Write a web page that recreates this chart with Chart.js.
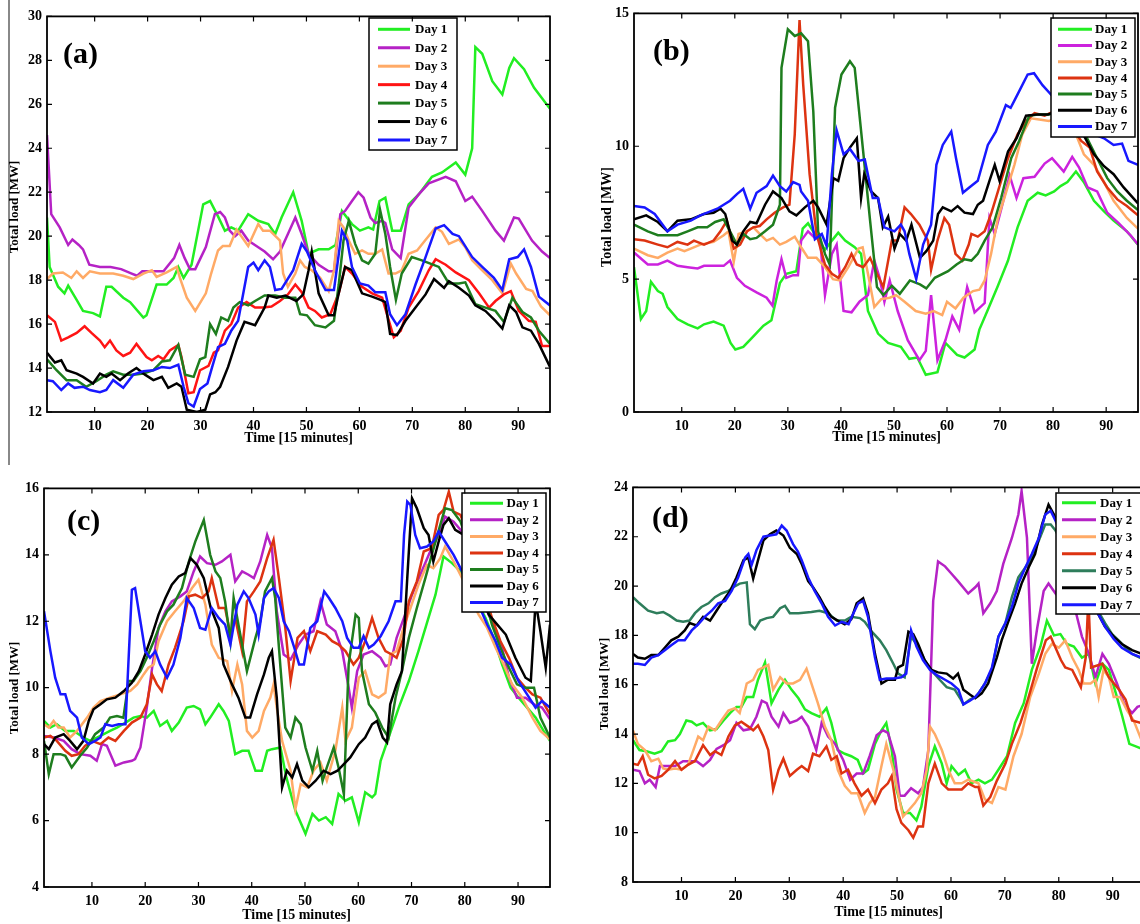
<!DOCTYPE html>
<html>
<head>
<meta charset="utf-8">
<script src="https://cdn.jsdelivr.net/npm/chart.js@4.4.0/dist/chart.umd.min.js"></script>
<style>
  html, body { margin: 0; padding: 0; background: #fff; width: 1140px; height: 924px; overflow: hidden; }
  .panel { position: absolute; }
  #rule { position: absolute; left: 8px; top: 0; width: 2px; height: 465px; background: #888; }
</style>
</head>
<body>
<div id="rule"></div>
<script>
// Legend names and axis ticks
const dayLabels = ['Day 1', 'Day 2', 'Day 3', 'Day 4', 'Day 5', 'Day 6', 'Day 7'];
const xTicks = [10, 20, 30, 40, 50, 60, 70, 80, 90];
const aTicks = [12, 14, 16, 18, 20, 22, 24, 26, 28, 30];
const bTicks = [0, 5, 10, 15];
const cTicks = [4, 6, 8, 10, 12, 14, 16];
const dTicks = [8, 10, 12, 14, 16, 18, 20, 22, 24];

// Panel (a) series: [time step, total load MW]
const a1 = [[1,20.85],[1.5,18.6],[3.1,17.7],[4.3,17.4],[5,17.75],[6.6,17.1],[7.8,16.6],[9.7,16.5],[11,16.35],[12.2,17.7],[13.2,17.7],[15.4,17.2],[16.7,17.0],[19.2,16.3],[19.8,16.4],[21.7,17.8],[23.6,17.8],[24.9,18.1],[25.8,18.6],[26.8,18.1],[28.3,18.7],[30.5,21.45],[31.8,21.6],[33.3,20.9],[34.6,20.25],[35.8,20.4],[37.1,20.25],[39,21.0],[40.9,20.7],[42.8,20.55],[44.1,20.1],[45.3,20.85],[47.5,22.0],[49.1,20.7],[50.4,19.2],[52.3,19.4],[54.2,19.4],[55.5,19.6],[56.7,21.15],[58.6,20.55],[60.1,20.25],[61.7,20.4],[62.6,20.3],[63.8,21.6],[64.9,21.75],[66.2,20.25],[67.8,20.25],[69.3,21.45],[71.2,21.9],[73.7,22.7],[75.6,22.9],[78.2,23.35],[80,22.8],[81.3,24.0],[81.9,28.6],[83.2,28.3],[85.1,27.05],[87,26.45],[88.3,27.65],[89.2,28.1],[91.1,27.6],[93,26.75],[96,25.8]];
const a2 = [[1,24.6],[1.8,21.0],[3.4,20.4],[5,19.6],[5.8,19.85],[7,19.6],[7.8,19.4],[9,18.7],[11,18.6],[13,18.6],[15,18.5],[17,18.3],[18,18.2],[19,18.4],[21,18.4],[23,18.4],[25,19.0],[26,19.6],[27,19.0],[28,18.5],[29,18.5],[31,19.5],[32.7,21.0],[33.7,21.1],[34.6,20.85],[35.5,20.25],[36.5,20.0],[37.7,20.25],[39,19.8],[40.9,19.5],[42.1,19.3],[43.7,18.95],[45,19.3],[46.5,20.1],[47.9,20.85],[49.1,20.1],[50.4,19.2],[52.3,18.7],[54.2,18.4],[55.2,18.4],[56.4,21.0],[57.3,21.15],[58.6,21.6],[59.8,22.0],[60.8,21.75],[62.1,20.85],[63,20.6],[64.3,20.7],[64.9,20.6],[66.2,19.4],[67.8,19.0],[69.3,21.3],[71.2,21.9],[73.1,22.4],[76.3,22.7],[78.2,22.5],[80,21.6],[81.3,21.8],[83.2,21.15],[85.7,20.25],[87.3,19.8],[89.2,20.85],[90.1,20.8],[92.6,19.8],[94.5,19.3],[96,19.0]];
const a3 = [[1,18.05],[2.1,18.3],[4,18.35],[5.6,18.1],[6.6,18.4],[7.8,18.1],[9.1,18.4],[11,18.3],[13.5,18.3],[15.4,18.2],[17.3,18.05],[19.2,18.3],[20.8,18.45],[21.7,18.15],[23.6,18.35],[25.5,18.6],[26.1,18.1],[27.4,17.2],[29,16.6],[31,17.4],[32,18.3],[33.3,19.35],[34.2,19.55],[35.5,19.55],[36.8,20.3],[39,19.55],[40.9,20.55],[41.8,20.25],[43.1,20.25],[45,19.8],[45.6,18.3],[46.5,17.7],[47.9,18.3],[48.8,18.9],[49.7,18.6],[51,18.45],[52.6,18.1],[54.2,17.5],[55.2,18.45],[56.1,20.7],[57,20.4],[58,19.8],[59.2,19.2],[60.5,19.35],[61.7,19.2],[63,19.2],[64.3,19.4],[65.5,18.3],[66.8,18.3],[68,18.45],[69.3,19.2],[70.9,19.35],[72.4,19.8],[74.4,20.4],[75.6,20.2],[76.9,19.65],[78.8,19.85],[80,19.5],[81.3,18.9],[83.2,18.45],[85.1,18.0],[87,17.4],[88.6,18.75],[89.6,18.3],[91.5,17.6],[92.7,17.5],[94.3,16.8],[96,16.4]];
const a4 = [[1,16.4],[2.5,16.1],[3.7,15.25],[5,15.4],[6.6,15.6],[8.1,15.9],[9.4,15.6],[11,15.25],[11.9,14.95],[12.9,15.25],[14.1,14.8],[15.4,14.55],[16.7,14.7],[17.9,15.1],[19.8,14.5],[20.8,14.35],[22,14.55],[23,14.4],[24.2,14.8],[25.8,15.05],[26.4,14.5],[27.7,12.85],[28.7,12.9],[29.9,13.9],[31.5,14.1],[32.5,14.7],[33.3,14.8],[34.6,15.7],[35.8,16.0],[37.1,16.75],[38.7,17.0],[40.3,16.75],[41.8,16.75],[43.4,16.8],[45,17.05],[46.5,17.35],[47.9,17.8],[49.1,17.45],[50.4,16.75],[51.6,16.6],[52.9,16.3],[54.5,16.45],[56.1,17.4],[57.3,18.6],[58.6,18.3],[60.5,17.7],[62.4,17.4],[64.3,17.2],[65.2,16.45],[66.5,15.4],[67.8,15.7],[69.3,16.75],[71.2,17.5],[73.1,18.45],[74.4,18.95],[76.3,18.7],[78.2,18.35],[80.7,18.0],[82.6,17.4],[84.5,16.75],[85.7,17.05],[87.3,17.35],[88.6,17.5],[90.1,16.6],[92,16.15],[93.3,16.1],[94.5,15.0],[96,15.0]];
const a5 = [[1,14.4],[2.8,13.9],[4.7,13.45],[6.6,13.45],[8.4,13.15],[10.3,13.4],[12.2,13.7],[13.5,13.85],[15.4,13.7],[17.3,13.7],[19.2,13.75],[21.1,13.9],[22.7,14.3],[24.2,14.35],[25.8,15.05],[27.1,13.7],[28.7,13.6],[29.9,14.4],[30.9,14.5],[31.8,16.0],[32.9,15.55],[33.9,16.3],[35.2,16.15],[36.2,16.75],[37.4,17.0],[39,16.85],[40.3,17.05],[42.1,17.3],[44.1,17.3],[46,17.2],[47.9,17.2],[48.8,16.45],[50.1,16.4],[51.6,15.95],[53.6,15.85],[55.2,16.15],[56.1,17.8],[57,19.8],[58,20.7],[59.2,19.65],[60.5,18.9],[61.7,18.75],[63,19.2],[63.9,21.2],[64.9,20.1],[65.8,18.6],[66.9,17.1],[68,18.3],[69.9,19.05],[71.8,18.9],[73.4,18.75],[75,18.6],[76.9,17.85],[78.8,17.85],[80,17.9],[81.9,16.9],[83.8,16.75],[85.7,16.6],[87.3,16.1],[88.9,17.2],[90.8,16.55],[92.4,16.3],[93.9,15.7],[96,15.1]];
const a6 = [[1,14.7],[2.5,14.25],[3.7,14.35],[4.7,13.9],[6.6,13.75],[7.8,13.6],[9.7,13.3],[11,13.75],[12.2,13.6],[13.2,13.75],[14.8,13.45],[16.3,13.75],[17.9,14.0],[19.5,13.7],[21.1,13.45],[22.7,13.6],[23.9,13.1],[25.5,13.3],[26.4,13.15],[27.4,12.1],[29.3,12.0],[30.9,12.1],[31.8,12.8],[32.8,12.9],[33.7,13.15],[35.2,14.05],[36.8,15.25],[38.3,16.1],[40.3,15.95],[42.1,16.75],[42.8,17.3],[44.4,17.2],[46,17.3],[48.1,17.05],[49.4,17.35],[50.4,18.45],[51,19.3],[52.3,17.4],[54.2,16.4],[55.2,16.4],[56.1,17.4],[57.3,18.6],[58.6,18.45],[60.5,17.4],[62.4,17.25],[64,17.1],[64.9,17.0],[65.8,15.55],[67.1,15.5],[68.7,16.15],[70.6,16.75],[72.5,17.35],[74.1,18.05],[76,17.65],[76.9,17.95],[78.8,17.65],[80.7,17.3],[81.9,16.85],[83.8,16.6],[85.7,16.15],[87,15.8],[88.3,16.85],[89.6,16.55],[90.8,15.85],[92.4,15.7],[93.9,15.1],[96,14.05]];
const a7 = [[1,13.45],[2.1,13.4],[3.7,13.0],[5,13.3],[6.2,13.1],[7.8,13.15],[9.1,13.0],[11,12.9],[12.2,13.0],[13.5,13.45],[15.4,13.1],[17.3,13.7],[19.2,13.85],[21.1,13.9],[22.7,14.05],[24.2,14.0],[25.8,14.15],[26.8,13.15],[27.7,12.4],[28.7,12.25],[29.9,13.05],[31.3,13.3],[32.2,14.05],[33.3,14.95],[34.6,15.1],[35.8,15.7],[37.1,16.15],[39,18.6],[40,18.8],[40.9,18.45],[42.1,18.9],[43.1,18.6],[44.1,17.55],[45.3,17.6],[47.5,18.45],[49.1,19.65],[50.1,19.3],[51.6,18.45],[53.6,17.55],[55.2,17.55],[56.7,20.25],[57.7,19.8],[58.6,18.6],[60.1,17.85],[61.7,17.75],[63,17.45],[64.9,17.45],[65.8,16.45],[67.1,15.95],[68.7,16.45],[70.6,17.8],[72.5,19.05],[74.4,20.35],[76,20.5],[77.6,20.1],[78.8,20.0],[81.3,19.05],[83.2,18.6],[85.4,18.1],[87,17.55],[88.3,18.95],[89.9,19.05],[91.1,19.4],[92.4,18.6],[93.9,17.25],[96,16.85]];

// Panel (b)
const b1 = [[1,5.45],[2.3,3.5],[3.3,3.8],[4.2,4.9],[5.5,4.55],[6.4,4.45],[7.3,3.95],[9.2,3.5],[11.1,3.3],[13,3.15],[14.2,3.3],[16,3.4],[17.9,3.25],[19.2,2.6],[20.1,2.35],[21.6,2.45],[23.5,2.85],[25.4,3.25],[26.9,3.45],[28.5,4.85],[29.7,5.2],[31.6,5.3],[32.8,6.9],[33.8,7.1],[35.1,6.7],[37,6.1],[38.3,6.45],[39.5,6.75],[40.8,6.45],[42.6,6.2],[43.8,5.95],[45.1,3.8],[47,2.95],[48.9,2.6],[51.3,2.45],[52.9,2.0],[54.4,2.05],[56,1.4],[58.2,1.5],[59.7,2.6],[61.9,2.15],[63.3,2.05],[65.2,2.35],[66.1,3.1],[67.7,3.85],[69.6,4.75],[71.5,5.7],[73.3,6.95],[75.2,7.95],[77.1,8.25],[78.6,8.15],[80.2,8.3],[81.4,8.5],[82.7,8.65],[84.3,9.05],[85.8,8.65],[87.7,7.95],[89.6,7.55],[91.4,7.2],[93.9,6.8],[96,6.3]];
const b2 = [[1,6.0],[3.6,5.55],[5.5,5.55],[7.3,5.7],[9.2,5.5],[11.1,5.45],[13,5.4],[14.2,5.5],[17.9,5.5],[19.1,5.7],[20.4,5.05],[21.9,4.75],[24.1,4.5],[26,4.3],[27.1,4.0],[27.9,4.95],[28.8,5.75],[29.7,5.05],[31,5.15],[31.9,5.15],[32.5,6.45],[33.8,6.8],[35.1,6.55],[36,6.65],[37,4.4],[38.3,5.95],[39.2,6.3],[40.5,3.8],[42,3.75],[43.5,4.15],[45.1,4.4],[46.3,5.7],[47.3,5.05],[48.2,4.15],[49.2,4.95],[50.7,3.8],[52.6,2.7],[54.8,1.95],[56,2.3],[57,4.4],[58.2,1.95],[59.7,2.7],[61,3.6],[62.3,3.1],[63.8,4.7],[64.6,4.2],[65.2,3.75],[67.1,4.1],[68,7.3],[69,6.7],[70.3,7.7],[71.8,8.9],[73.1,8.05],[74.4,8.8],[76.5,8.85],[78.4,9.35],[79.8,9.55],[82,9.05],[83.6,9.6],[84.9,9.2],[86.5,8.45],[88.3,8.3],[90.2,7.5],[92.4,7.1],[94.6,6.65],[96,6.3]];
const b3 = [[1,6.15],[3.6,5.9],[5.5,5.8],[7.3,6.0],[9.2,6.15],[10.5,6.05],[11.7,6.15],[13.5,6.3],[16,6.4],[17.9,6.65],[18.8,6.8],[19.8,5.65],[20.7,6.7],[22.3,6.8],[23.5,6.95],[24.7,6.7],[26,6.45],[27.2,6.55],[28.5,6.3],[29.7,6.4],[31.3,6.6],[32.5,6.2],[33.8,5.8],[35.4,5.8],[37,5.45],[38.5,5.0],[39.8,4.95],[41.4,5.45],[43.3,6.15],[44.1,6.2],[45.1,5.2],[46.3,3.95],[47.6,4.25],[49.2,4.3],[50.4,4.4],[52,4.15],[54.1,3.8],[56,3.7],[57.5,3.8],[59.1,3.65],[60,4.15],[61.6,3.9],[63.1,4.3],[64.9,4.55],[66.1,4.6],[67.1,4.95],[68.3,5.95],[69.6,7.3],[70.8,8.05],[72.7,9.3],[74.2,10.45],[75.8,11.05],[77.7,11.0],[79.2,10.95],[80.8,11.05],[82.7,10.7],[84.3,10.45],[85.8,9.7],[87.7,9.3],[89.6,8.65],[91.4,7.95],[93.9,7.3],[96,6.9]];
const b4 = [[1,6.5],[3,6.45],[5.5,6.3],[7.3,6.2],[9.2,6.4],[11.1,6.3],[12.3,6.45],[14.2,6.3],[16,6.45],[17.3,6.8],[18.5,7.2],[19.8,6.15],[21,6.3],[22.3,6.8],[23.5,6.95],[24.7,7.0],[26,7.25],[27.5,7.5],[29.1,7.7],[30.3,7.8],[31.3,10.45],[32.2,14.75],[32.9,12.3],[34.1,8.95],[35.4,6.7],[37,5.55],[38.3,5.2],[39.5,5.05],[40.8,5.45],[42,5.95],[43,5.55],[44.2,5.45],[45.5,5.8],[46.8,5.2],[48,4.7],[49.6,6.45],[50.7,6.45],[52,7.7],[53.2,7.45],[54.8,7.05],[56.4,6.45],[57,5.35],[58.2,6.45],[59.5,7.3],[60.4,7.05],[61.6,5.95],[62.9,5.7],[64.1,6.3],[64.6,6.7],[65.8,6.6],[67.1,6.8],[68.3,7.45],[69.6,8.3],[71.5,9.55],[73.3,10.45],[74.9,10.95],[76.5,11.25],[78.4,11.15],[80,11.3],[81.6,11.0],[83.4,10.75],[85.3,10.2],[86.9,9.95],[88.3,9.05],[90.2,8.45],[92.1,8.0],[93.9,7.75],[96,7.4]];
const b5 = [[1,7.05],[3.6,6.8],[5.5,6.65],[7.3,6.65],[9.2,6.65],[11.1,6.8],[13,6.95],[14.8,6.95],[16.3,7.15],[17.9,7.25],[19.1,6.8],[20.4,6.3],[21.6,6.7],[22.9,6.5],[24.1,6.55],[25.7,6.8],[27.2,7.05],[28.5,7.8],[28.8,12.95],[30,14.4],[31.3,14.15],[32.5,14.25],[33.8,13.95],[34.8,11.3],[35.7,6.8],[37,5.95],[37.9,5.55],[38.9,11.45],[40.1,12.7],[41.7,13.2],[42.6,12.95],[44.2,9.8],[45.5,7.2],[46.8,4.7],[48,4.4],[49.6,4.75],[51.1,4.45],[53,4.95],[54.9,4.8],[56.1,4.65],[57.7,5.05],[60.2,5.3],[61.8,5.55],[63.3,5.75],[64.6,5.7],[65.8,5.95],[67.1,6.45],[68.6,6.95],[70.2,8.05],[72.1,9.55],[73.6,10.2],[75.5,11.15],[77.4,11.2],[79.2,11.2],[80.8,11.3],[82.7,11.15],[84.6,10.7],[86.4,10.3],[88.3,9.55],[90.2,8.8],[92.1,8.3],[93.9,7.95],[96,7.6]];
const b6 = [[1,7.25],[3.3,7.4],[5.5,7.15],[7.3,6.8],[9.2,7.2],[11.7,7.25],[14.2,7.45],[16,7.5],[17.3,7.65],[18.2,7.45],[19.5,6.45],[20.4,6.3],[21.6,6.8],[22.9,7.15],[24.1,7.1],[25.7,7.8],[27.2,8.3],[28.8,8.05],[30.3,7.55],[31.6,7.4],[33.2,7.7],[34.8,7.95],[35.7,7.7],[37.3,7.05],[38.6,8.8],[39.5,8.7],[40.5,9.55],[41.7,9.95],[43,10.3],[43.8,8.05],[44.4,8.95],[45.7,8.3],[47,8.05],[47.9,6.95],[48.9,7.35],[50.1,6.15],[51.1,6.7],[52.3,6.45],[53.3,7.05],[54.9,5.8],[56.1,6.05],[57.4,6.45],[58.3,7.45],[59.2,7.7],[60.8,7.55],[62,7.75],[63.3,7.5],[64.9,7.45],[65.8,7.8],[66.8,7.95],[68,8.7],[69,9.3],[69.9,8.7],[71.5,9.8],[73.1,10.3],[74.9,11.15],[77.1,11.2],[79,11.2],[80.6,11.3],[82.2,11.15],[84,10.95],[85.8,10.4],[87.7,9.7],[89.6,9.25],[91.4,8.95],[93.3,8.45],[96,7.85]];
const b7 = [[1,7.75],[3,7.7],[4.9,7.45],[7.3,6.8],[9.2,7.05],[11.7,7.2],[13.5,7.4],[15.4,7.55],[16.7,7.65],[17.9,7.8],[19.1,7.95],[20.4,8.2],[21.6,8.4],[22.9,7.65],[24.1,8.25],[26,8.5],[27.2,8.9],[28.5,8.5],[29.7,8.3],[31,8.65],[32.2,8.55],[32.5,8.3],[33.8,7.95],[35.1,6.5],[36.4,6.7],[37.3,6.25],[38.3,8.95],[39.2,10.6],[40.5,9.7],[41.7,9.9],[43.3,9.45],[44.5,9.5],[46,8.05],[47,8.05],[48.2,6.95],[50.1,6.8],[51.3,7.05],[52,6.8],[52.9,5.95],[54.2,5.0],[55.5,6.3],[57,7.05],[58,9.3],[59.2,10.05],[60.8,10.55],[61.7,9.55],[63,8.25],[64.2,8.45],[65.8,8.7],[67.7,10.05],[69.2,10.55],[71.1,11.55],[72,11.45],[73.3,11.95],[75.2,12.7],[76.4,12.75],[78,12.3],[79.8,11.9],[82,11.3],[83.6,10.95],[85.2,10.7],[87.1,10.5],[89.6,10.3],[91.4,10.05],[93,10.1],[94.2,9.45],[96,9.3]];

// Panel (c)
const c1 = [[1,9.0],[2.2,8.8],[3.4,8.9],[5,8.7],[6.6,8.7],[8.4,8.5],[9.7,8.4],[11.6,8.55],[13.4,8.7],[14.7,8.8],[16.3,8.95],[17.8,9.1],[19.1,9.15],[20.3,9.1],[21.6,9.3],[22.8,8.85],[24.1,9.0],[25,8.7],[26.3,8.95],[27.8,9.4],[29.1,9.45],[30.3,9.35],[31.3,8.9],[32.2,9.1],[33.8,9.5],[34.7,9.3],[35.7,9.0],[36.9,8.0],[38.2,8.1],[39.4,8.1],[40.7,7.5],[41.9,7.5],[42.9,8.1],[43.8,8.15],[45.4,8.2],[46.5,7.3],[48.2,6.3],[50.1,5.6],[51.4,6.2],[52.6,6.0],[53.9,6.1],[55.1,5.9],[56.3,6.8],[57.6,6.6],[58.8,6.7],[60.1,5.95],[61.3,6.85],[62.6,6.7],[63.2,6.8],[64.2,7.8],[65.7,8.5],[67.6,9.4],[69.5,10.2],[71.3,11.1],[72.9,11.95],[74.5,12.8],[76,13.95],[77.6,13.75],[79.2,13.5],[80.7,13.0],[82.3,12.6],[83.9,12.1],[85.4,11.5],[87,10.7],[88.6,10.0],[90.1,9.7],[91.7,9.4],[93.3,9.1],[94.8,8.7],[96,8.4]];
const c2 = [[1,8.55],[2.8,8.5],[4.7,8.4],[6.2,8.15],[7.8,8.0],[9.7,7.95],[10.9,7.8],[11.9,8.3],[12.8,8.25],[14.4,7.65],[16,7.75],[17.5,7.8],[18.1,7.85],[19.1,8.2],[20.3,9.4],[21.3,10.6],[22.5,11.8],[23.8,12.3],[25,12.6],[26.6,12.75],[27.8,12.9],[29.1,13.5],[30.3,13.95],[31.6,13.75],[33.2,13.7],[34.4,13.8],[36,14.0],[36.9,13.2],[38.2,13.5],[39.4,13.4],[40.4,13.3],[41.6,13.8],[42.9,14.6],[43.8,14.2],[44.7,12.3],[46,11.0],[47.3,10.85],[48.8,11.3],[50.1,11.6],[51.6,11.7],[52.9,12.6],[54.1,11.9],[55.7,11.7],[57,11.1],[58.2,10.0],[58.8,9.4],[59.8,10.5],[61,11.0],[62.6,11.1],[64.2,10.9],[65.1,10.65],[66,10.7],[67.2,11.5],[68.8,12.2],[70.1,12.8],[71.9,13.5],[73.5,14.1],[75.1,14.6],[76.3,15.15],[77.9,15.0],[79.5,14.7],[81.1,14.0],[82.3,13.3],[83.9,12.4],[85.4,11.9],[87,11.2],[88.3,10.3],[89.8,9.7],[91.4,9.7],[93,9.5],[94.5,9.4],[96,9.05]];
const c3 = [[1,8.9],[1.9,8.8],[2.8,9.0],[3.7,8.8],[4.7,8.8],[5.9,8.5],[7.2,8.7],[9.1,9.1],[10.3,9.4],[11.6,9.6],[13.4,9.7],[15.3,9.8],[17.2,9.9],[18.5,10.1],[19.7,10.4],[20.6,10.6],[21.6,10.7],[22.5,11.4],[24.1,12.0],[25.6,12.3],[27.2,12.6],[28.8,13.0],[30,13.25],[31.3,12.5],[32.5,11.3],[33.8,10.9],[35.4,10.8],[36.3,9.9],[37.3,10.7],[38.2,10.1],[39.1,8.7],[40.1,8.5],[41.3,8.7],[42.3,9.3],[43.5,9.7],[44.1,10.1],[44.7,9.4],[45.7,8.4],[47.3,7.5],[48.2,6.35],[49.2,7.1],[50.4,7.0],[51.6,7.5],[52.9,7.75],[54.1,7.2],[55.7,8.1],[57,9.4],[57.6,8.4],[58.8,8.8],[60.1,10.3],[61.3,10.5],[62.6,9.8],[63.8,9.7],[65.1,9.85],[66,11.0],[67.2,11.1],[68.5,11.8],[69.8,12.4],[71.3,13.1],[72.9,13.7],[74.1,13.6],[75.4,13.9],[76.3,14.25],[77.9,13.8],[79.5,13.3],[81.1,12.7],[82.6,12.2],[84.2,11.8],[85.8,11.2],[87.3,10.7],[88.9,10.1],[90.8,9.7],[92.7,9.1],[94.2,8.7],[96,8.45]];
const c4 = [[1,8.5],[2.2,8.55],[3.4,8.4],[5,8.1],[6.2,7.95],[7.5,8.0],[8.7,8.25],[10,8.4],[11.6,8.3],[13.1,8.5],[14.4,8.4],[16,8.7],[17.5,8.95],[19.1,9.1],[20.3,9.5],[21.3,10.4],[22.2,10.1],[23.1,9.9],[24.4,10.7],[25.6,11.2],[27.2,12.0],[28.2,12.75],[29.4,12.8],[30.7,12.7],[31.9,12.9],[32.5,13.3],[33.8,12.4],[35,12.4],[36,11.6],[36.9,12.1],[38.2,11.1],[39.1,12.6],[40.4,12.9],[41.6,13.2],[42.9,13.9],[44.1,14.45],[45.1,13.3],[46.3,11.8],[47.3,10.2],[48.6,11.5],[49.8,11.7],[51,11.1],[52.3,11.7],[53.9,11.6],[55.1,11.4],[56.3,11.3],[57.6,11.1],[59.1,10.7],[60.1,10.9],[61.3,11.4],[62.6,12.1],[63.8,11.5],[65.1,11.1],[66.3,11.0],[67.2,10.9],[68.5,11.5],[69.5,12.6],[71,13.2],[72.3,14.1],[73.8,14.2],[75.1,15.2],[76,15.35],[77,15.9],[77.9,15.3],[79.2,15.2],[80.7,14.6],[82,13.7],[83.6,12.9],[85.1,12.1],[86.7,11.4],[88.3,10.9],[89.8,10.3],[91.4,10.0],[92.7,9.8],[94.2,9.7],[96,9.2]];
const c5 = [[1,8.4],[1.9,7.4],[2.8,8.0],[4.1,8.0],[5,7.95],[6.2,7.6],[7.8,7.95],[9.1,8.2],[10.6,8.6],[12.2,8.8],[13.4,9.1],[14.7,9.15],[15.9,9.1],[16.9,10.2],[17.8,10.2],[19.1,10.5],[20.3,10.9],[21.6,11.4],[22.8,11.9],[24.1,12.3],[25.3,12.5],[26.9,13.0],[28.2,13.8],[29.4,14.4],[31,15.05],[32.2,14.0],[33.2,13.5],[34.1,13.3],[35,12.6],[36,11.4],[36.6,12.7],[37.5,11.9],[39.1,10.5],[40.7,11.5],[41.6,12.0],[42.5,12.9],[43.8,13.3],[44.4,12.7],[45.4,10.6],[46.3,8.8],[47.3,8.5],[48.2,9.1],[49.2,8.9],[50.1,8.2],[51.4,7.5],[52.3,8.1],[53.3,7.2],[54.1,7.6],[55.4,8.2],[56.3,7.6],[57.3,6.8],[58.2,10.7],[59.5,12.2],[60.1,12.1],[60.7,10.5],[62,9.5],[63.2,9.25],[64.5,8.8],[65.7,8.5],[67,9.7],[68.2,10.5],[69.5,11.5],[71,12.4],[72.6,13.3],[73.8,14.0],[75.4,14.9],[76.3,15.4],[77.6,15.35],[79.2,15.0],[80.7,14.3],[82,13.6],[83.6,12.8],[85.1,11.9],[86.7,11.2],[88.3,10.6],[89.8,10.1],[91.4,10.0],[93,10.0],[94.2,9.1],[96,8.5]];
const c6 = [[1,8.3],[1.9,8.15],[3.1,8.5],[4.7,8.6],[5.9,8.4],[7.2,8.15],[8.4,8.4],[9.4,9.0],[10.3,9.35],[11.6,9.5],[12.8,9.65],[14.4,9.7],[16,9.9],[17.5,10.15],[18.8,10.5],[20,11.0],[21.3,11.6],[22.5,12.2],[23.8,12.7],[25,13.1],[26.3,13.35],[27.5,13.45],[28.5,13.9],[29.7,13.7],[31,13.3],[32.3,12.4],[33.8,11.8],[34.7,10.7],[36.3,10.1],[37.5,9.7],[38.8,9.1],[39.7,9.1],[41,9.8],[42.3,10.4],[43.2,10.9],[43.8,11.1],[44.7,9.7],[45.7,7.0],[46.6,7.5],[47.6,7.3],[48.5,7.7],[49.5,7.2],[50.7,7.0],[52,7.2],[53.5,7.5],[54.8,7.4],[56.1,7.5],[57.3,7.7],[58.5,7.9],[60.1,8.3],[61.3,8.5],[62.6,8.9],[63.5,9.0],[64.6,8.5],[65.4,8.35],[66,9.5],[67.2,10.1],[68.2,10.5],[69.2,13.3],[70.1,15.7],[71,15.4],[72.3,14.8],[73.2,14.6],[74.1,13.8],[75.1,14.4],[76,14.9],[77,15.1],[78.2,14.75],[79.8,14.6],[81.4,13.8],[83,12.9],[84.5,12.2],[86.1,11.9],[87.7,11.6],[89.5,10.9],[91.4,10.3],[92.4,10.2],[93.3,12.6],[94.2,11.7],[95.2,10.6],[96,11.9]];
const c7 = [[1,12.3],[2.2,11.1],[3.1,10.3],[4.1,9.8],[5,9.8],[5.9,9.3],[7.2,9.1],[8.1,8.5],[9.4,8.3],[10.6,8.4],[11.6,8.5],[12.5,8.9],[13.8,8.85],[15,8.9],[16.3,8.9],[17.5,12.95],[18.1,13.0],[19.1,12.0],[20,11.1],[20.9,10.9],[21.9,11.1],[22.8,10.7],[24.1,10.3],[25.3,10.7],[26.6,11.5],[27.8,12.7],[29.1,12.4],[30.3,11.8],[31.3,11.75],[32.5,12.4],[33.8,12.1],[35,11.9],[36,11.3],[37.3,12.5],[38.5,12.9],[39.4,12.7],[40.7,12.2],[41.3,11.6],[42.3,12.7],[43.2,12.9],[44.1,13.0],[45.1,12.7],[46,12.0],[47,11.7],[48,11.2],[48.9,10.7],[49.8,10.7],[51,11.8],[52.3,12.0],[53.6,12.9],[54.5,12.7],[55.7,12.4],[57,12.0],[57.9,11.5],[59.1,11.2],[60.1,11.2],[61,11.55],[62,11.2],[62.9,11.3],[64.2,11.55],[65.7,12.0],[67,12.6],[68,12.6],[68.6,14.6],[69.2,15.6],[69.8,15.5],[70.7,14.6],[71.6,14.2],[72.9,14.25],[74.1,14.4],[75.1,14.7],[76.3,14.4],[77.9,14.0],[79.5,13.5],[81.1,13.0],[82.6,12.5],[84.2,11.9],[85.8,11.4],[87,10.9],[88.6,10.7],[90.1,10.2],[91.7,9.8],[93.3,9.4],[94.5,9.6],[96,9.4]];

// Panel (d)
const d1 = [[1,13.75],[2.2,13.35],[3.5,13.3],[5,13.2],[6.3,13.3],[7.5,13.7],[8.8,13.75],[9.7,14.0],[10.9,14.55],[11.9,14.5],[12.8,14.35],[14,14.45],[15.3,14.15],[16.5,14.2],[17.8,14.55],[19,14.85],[20.2,15.1],[21.1,15.1],[22.1,15.5],[23.3,15.5],[24.2,16.2],[25.5,16.9],[26.7,15.25],[28,15.8],[29.2,16.2],[30.4,15.8],[31.7,15.45],[32.9,15.0],[34.1,14.85],[35.6,14.7],[36.9,15.05],[37.8,14.45],[39,13.35],[40.3,13.2],[41.5,13.1],[42.7,12.95],[43.7,12.4],[44.6,12.55],[45.9,13.6],[47.1,14.15],[48,14.45],[49,13.35],[49.9,11.75],[51.1,10.8],[52.4,10.8],[53.6,10.5],[54.5,11.05],[55.8,12.7],[57,13.5],[58.3,12.8],[59.2,12.0],[60.1,12.7],[61.4,12.35],[62.6,12.55],[63.8,12.0],[65.1,12.15],[66.3,12.0],[67.6,12.15],[68.8,12.55],[70.4,13.1],[71.9,14.45],[73.5,15.25],[75,16.6],[76.6,17.55],[77.8,18.6],[79.1,18.0],[80.3,18.05],[81.5,17.65],[82.8,17.55],[84.3,17.1],[85.6,17.25],[86.8,16.05],[88.1,16.85],[89.3,16.6],[90.6,15.65],[91.8,14.7],[93.1,13.6],[94.3,13.5],[96,13.35]];
const d2 = [[1,12.55],[2.2,12.5],[3.2,12.0],[4.1,12.15],[5.2,11.85],[6,12.7],[7.2,12.7],[8.8,12.7],[10.3,12.9],[11.5,12.9],[12.8,12.9],[14,12.7],[15.3,12.95],[16.5,13.4],[17.8,13.55],[19,13.75],[20.2,14.45],[21.5,14.15],[22.7,14.2],[23.9,14.7],[24.9,15.35],[25.8,15.25],[26.7,14.7],[28,14.3],[28.9,14.85],[30.1,14.45],[31.4,14.55],[32.3,14.7],[33.5,14.3],[35,13.35],[36,14.45],[37.2,13.9],[38.5,13.6],[40,12.95],[41.3,12.15],[42.5,12.4],[43.7,12.4],[44.9,13.1],[46.2,13.95],[47.4,14.15],[48.3,14.05],[49.6,13.1],[50.5,11.5],[51.4,11.5],[52.6,11.8],[53.9,11.6],[54.8,11.85],[55.8,13.35],[56.7,19.4],[57.6,21.0],[58.9,20.8],[60.1,20.5],[61.3,20.2],[63.2,19.7],[64.5,19.95],[65.1,20.1],[66,18.9],[67.3,19.3],[68.5,19.8],[69.7,20.9],[71.3,21.95],[72.5,22.9],[73.1,23.85],[74.1,21.95],[75,16.85],[76,18.3],[77.2,19.8],[78.1,20.1],[79.4,19.7],[80.6,20.1],[81.8,19.4],[83.1,19.0],[84.3,17.95],[85.6,17.25],[86.8,16.3],[88.1,17.25],[89.3,16.85],[90.8,16.05],[92.1,15.25],[93.6,14.85],[94.6,15.1],[96,15.2]];
const d3 = [[1,14.15],[1.9,13.6],[3.2,13.35],[4.4,12.9],[5.7,13.0],[6.6,12.6],[7.5,12.55],[8.8,12.6],[10,12.55],[11.2,12.75],[12.2,13.35],[13.1,13.9],[14,13.75],[15,14.3],[16.2,14.15],[17.4,14.55],[18.7,14.95],[19.9,15.05],[20.8,14.85],[22.1,16.05],[23.3,16.2],[24.2,16.6],[25.2,16.7],[26.1,16.8],[27,15.8],[28.3,16.3],[29.5,16.05],[30.7,16.05],[32,16.2],[33.2,16.65],[34.1,16.05],[35.3,15.25],[36.6,14.3],[37.8,13.75],[39,12.55],[40.3,11.9],[41.5,11.6],[42.7,11.6],[44,10.8],[44.9,11.2],[45.9,11.45],[47.1,12.7],[48,13.6],[49.3,12.55],[50.2,11.6],[51.1,10.65],[52.1,10.9],[53.3,11.2],[54.5,11.6],[55.5,12.55],[56.1,14.3],[57,14.0],[58.3,13.35],[59.5,12.55],[60.7,12.0],[62,12.0],[63.2,12.15],[65.1,12.0],[66.3,11.35],[67.6,11.2],[68.8,11.85],[70.1,11.75],[71.6,13.1],[73.1,14.0],[74.7,15.5],[76.3,16.45],[77.5,17.25],[78.7,17.65],[80,17.5],[81.2,17.8],[82.5,17.1],[83.7,16.6],[84.6,16.05],[85.9,16.05],[86.8,16.2],[87.4,15.5],[88.3,16.6],[89.3,16.3],[90.2,15.5],[91.4,15.5],[92.7,14.95],[93.9,14.55],[96,13.4]];
const d4 = [[1,12.8],[1.9,12.75],[2.8,13.1],[3.8,12.35],[5,12.2],[6.3,12.3],[7.5,12.55],[8.8,12.9],[10,12.55],[11.2,12.75],[12.5,12.9],[14,13.55],[15.3,13.15],[16.2,13.3],[17.4,13.15],[18.7,13.9],[19.9,14.35],[21.1,14.5],[22.4,14.3],[23.3,14.15],[24.2,14.35],[25.2,13.9],[26.1,13.35],[27,11.75],[28,12.55],[28.9,13.0],[30.1,12.3],[31.4,12.55],[32.3,12.7],[33.5,12.5],[34.4,13.2],[35.6,13.1],[36.9,13.5],[37.8,12.95],[38.8,13.1],[39.7,12.4],[40.9,12.55],[42.1,12.0],[43.4,11.5],[44.6,11.75],[45.9,11.2],[47.1,11.75],[48.3,12.0],[49,12.3],[49.9,10.95],[50.8,10.4],[52.1,10.1],[53,9.8],[53.9,10.25],[54.8,10.25],[55.8,12.0],[57,12.8],[58.3,12.0],[59.5,11.75],[62,11.75],[63.2,12.0],[64.5,11.85],[65.1,11.85],[66,11.1],[67.3,11.45],[68.5,12.1],[70.1,12.8],[71.3,13.6],[72.9,14.45],[74.4,15.5],[76,16.7],[77.6,17.8],[78.5,17.95],[79.4,17.5],[80.4,17.0],[81.2,16.7],[82.5,16.6],[84.1,15.9],[85,17.1],[85.5,19.5],[86,16.7],[88.1,16.85],[89.3,16.3],[91.2,15.8],[92.4,15.4],[93.6,14.55],[96,14.4]];
const d5 = [[1,19.55],[2.2,19.3],[3.8,19.0],[5.4,18.9],[6.6,18.95],[7.8,18.8],[9.1,18.6],[10.3,18.55],[11.5,18.6],[12.5,18.9],[13.7,19.15],[15,19.3],[16.2,19.55],[17.4,19.7],[18.7,19.8],[19.6,19.95],[20.8,20.1],[22.1,20.15],[22.7,18.45],[23.6,18.25],[24.6,18.6],[25.8,18.7],[27,18.75],[28.3,19.1],[29.2,19.2],[30.1,18.9],[31.7,18.9],[34.1,18.95],[35.6,19.0],[37.2,18.9],[38.8,18.6],[40.3,18.6],[41.5,18.75],[43.1,18.7],[44,18.55],[45.3,18.15],[46.8,17.8],[48,17.4],[49.3,16.85],[50.2,16.45],[51.4,16.3],[52.6,17.95],[53.9,17.55],[55.1,17.0],[56.3,16.6],[57.9,16.2],[59.2,15.9],[60.7,15.8],[61.7,15.45],[62.3,15.2],[63.5,15.4],[64.5,15.5],[65.1,15.65],[66.3,16.05],[67.6,16.6],[68.8,17.95],[70.1,18.5],[71.3,19.55],[72.5,20.35],[73.8,20.75],[75,21.15],[76.3,21.85],[77.5,22.5],[78.5,22.5],[79.4,22.25],[81,21.6],[83,20.6],[85,19.8],[87,19.1],[88.6,18.5],[89.9,18.05],[91.1,17.8],[92.4,17.5],[93.6,17.25],[96,17.0]];
const d6 = [[1,17.25],[1.9,17.1],[3.2,17.05],[4.4,17.2],[5.7,17.2],[6.9,17.5],[8.1,17.8],[9.4,17.95],[10.6,18.2],[11.5,18.5],[12.8,18.4],[14,18.75],[15.3,18.6],[16.5,19.0],[17.7,19.4],[19,19.8],[20.2,20.35],[21.5,21.05],[22.4,21.15],[23.3,20.3],[24.2,21.05],[25.2,21.85],[26.4,22.1],[27.6,22.25],[28.9,22.05],[30.1,21.55],[31.4,21.3],[32.3,20.9],[33.5,20.2],[34.4,19.95],[35.6,19.55],[36.6,19.15],[37.8,18.75],[39,18.6],[40.3,18.45],[41.5,18.65],[42.5,19.3],[43.7,19.5],[44.6,18.9],[45.9,17.25],[47.1,16.05],[48.3,16.2],[49.6,16.2],[50.2,16.7],[51.1,16.8],[52.1,18.15],[53,18.05],[53.9,17.65],[55.1,17.0],[56.4,16.6],[57.6,16.5],[59.2,16.45],[60.4,16.25],[61.3,16.45],[62.3,15.8],[63.5,15.6],[64.5,15.45],[65.7,15.65],[66.9,16.05],[68.5,17.1],[69.4,17.8],[70.7,18.6],[71.9,19.3],[73.1,20.1],[74.4,20.75],[75.6,21.3],[76.9,22.5],[78.1,23.3],[79.1,22.9],[80,22.4],[82,21.3],[84,20.3],[86,19.4],[88.6,18.35],[90.2,17.95],[91.7,17.65],[93.6,17.4],[96,17.2]];
const d7 = [[1,16.85],[1.9,16.85],[3.2,16.8],[4.4,17.1],[5.7,17.2],[6.9,17.4],[8.1,17.6],[9.4,17.8],[10.6,17.8],[11.9,18.2],[13.1,18.45],[14.3,18.75],[15.6,19.0],[16.8,19.3],[18.1,19.4],[19.3,19.8],[20.5,20.35],[21.8,21.15],[22.4,21.3],[23,20.85],[23.9,21.45],[25.2,22.0],[26.4,22.05],[27.6,22.1],[28.6,22.45],[29.5,22.25],[30.7,21.7],[31.6,21.4],[32.3,21.05],[33.5,20.35],[34.7,19.8],[36,19.3],[37.2,18.75],[38.5,18.4],[39.7,18.55],[41,18.45],[41.9,18.9],[42.8,19.3],[43.7,19.4],[44.6,18.75],[45.9,17.1],[46.8,16.2],[48,16.25],[49.3,16.25],[50.8,16.3],[51.7,16.45],[52.6,18.2],[53.6,17.55],[54.8,17.0],[56.1,16.6],[57.3,16.4],[58.9,16.2],[60.1,16.05],[61.4,15.8],[62.3,15.2],[63.5,15.35],[64.5,15.5],[65.1,15.65],[66.3,16.05],[67.6,16.7],[68.8,17.95],[70.1,18.5],[71.3,19.15],[72.5,20.1],[73.8,20.75],[75,21.3],[76.3,21.95],[77.5,22.9],[78.5,23.05],[79.4,22.65],[81,21.8],[83,20.8],[85,19.9],[87,19.0],[88.6,18.35],[90.2,17.85],[91.7,17.5],[93.6,17.25],[96,17.05]];

// Line colours per panel
const colA = ['#22ee22', '#b522c5', '#ffaa66', '#ff1414', '#1e7d1e', '#000000', '#1818ff'];
const colB = ['#22ee22', '#cc22dd', '#ffaa66', '#dd3311', '#1e7d1e', '#000000', '#1818ff'];
const colC = ['#22ee22', '#b522c5', '#ffaa66', '#dd3311', '#1e7d1e', '#000000', '#1818ff'];
const colD = ['#22ee22', '#b522c5', '#ffaa66', '#dd3311', '#2e7d5b', '#000000', '#1818ff'];

// Layout: plot rectangles on the page [left, top, right, bottom]
const ML = 50, MT = 12, MR = 8, MB = 46;
const SERIF = '"Liberation Serif", "Times New Roman", serif';

const panels = [
  { plot: [47, 15, 550, 412], yMin: 12, yMax: 30, yTicks: aTicks, series: [a1, a2, a3, a4, a5, a6, a7], colors: colA,
    label: '(a)', labelAt: [63, 55], yTitleAt: [15, 207], yTitleSize: 13, xTitleAt: [298.5, 438],
    legend: { box: [369, 18, 457, 150], row0: 29.3, step: 18.45, line: [378, 410], text: 415 } },
  { plot: [634, 12, 1138, 412], yMin: 0, yMax: 15, yTicks: bTicks, series: [b1, b2, b3, b4, b5, b6, b7], colors: colB,
    label: '(b)', labelAt: [653, 52], yTitleAt: [607, 217], yTitleSize: 14, xTitleAt: [886.5, 437],
    legend: { box: [1051, 18, 1135, 137], row0: 29.3, step: 16.2, line: [1058, 1092], text: 1095 } },
  { plot: [44, 487, 550, 887], yMin: 4, yMax: 16, yTicks: cTicks, series: [c1, c2, c3, c4, c5, c6, c7], colors: colC,
    label: '(c)', labelAt: [67, 522], yTitleAt: [15, 688], yTitleSize: 13, xTitleAt: [296.5, 915],
    legend: { box: [462, 493, 546, 612], row0: 503.3, step: 16.55, line: [470, 503], text: 506.5 } },
  { plot: [633, 486, 1145, 882], yMin: 8, yMax: 24, yTicks: dTicks, series: [d1, d2, d3, d4, d5, d6, d7], colors: colD,
    label: '(d)', labelAt: [652, 519], yTitleAt: [605, 684], yTitleSize: 13, xTitleAt: [888.5, 912],
    legend: { box: [1056, 493, 1142, 614], row0: 502.7, step: 17, line: [1062, 1096], text: 1100 } }
];

// Frame, inward ticks, legend box and labels drawn on top of the lines
const decor = {
  id: 'decor',
  afterDatasetsDraw(chart, args, opts) {
    const p = opts.panel;
    const ox = p.plot[0] - ML, oy = p.plot[1] - MT;
    const ctx = chart.ctx;
    const area = chart.chartArea;
    const xs = chart.scales.x, ys = chart.scales.y;
    ctx.save();

    // legend
    const lg = p.legend;
    ctx.fillStyle = '#fff';
    ctx.fillRect(lg.box[0] - ox, lg.box[1] - oy, lg.box[2] - lg.box[0], lg.box[3] - lg.box[1]);
    ctx.strokeStyle = '#000';
    ctx.lineWidth = 1.5;
    ctx.strokeRect(lg.box[0] - ox, lg.box[1] - oy, lg.box[2] - lg.box[0], lg.box[3] - lg.box[1]);
    ctx.font = 'bold 13px ' + SERIF;
    ctx.textBaseline = 'middle';
    ctx.textAlign = 'left';
    dayLabels.forEach((name, i) => {
      const y = lg.row0 + i * lg.step - oy;
      ctx.strokeStyle = p.colors[i];
      ctx.lineWidth = 3;
      ctx.beginPath();
      ctx.moveTo(lg.line[0] - ox, y);
      ctx.lineTo(lg.line[1] - ox, y);
      ctx.stroke();
      ctx.fillStyle = '#000';
      ctx.fillText(name, lg.text - ox, y + 0.5);
    });

    // frame with inward ticks
    ctx.strokeStyle = '#000';
    ctx.lineWidth = 1.8;
    ctx.strokeRect(area.left, area.top, area.right - area.left, area.bottom - area.top);
    ctx.lineWidth = 1.2;
    ctx.beginPath();
    xTicks.forEach(v => {
      const px = xs.getPixelForValue(v);
      ctx.moveTo(px, area.bottom); ctx.lineTo(px, area.bottom - 5);
      ctx.moveTo(px, area.top); ctx.lineTo(px, area.top + 5);
    });
    p.yTicks.forEach(v => {
      const py = ys.getPixelForValue(v);
      ctx.moveTo(area.left, py); ctx.lineTo(area.left + 5, py);
      ctx.moveTo(area.right, py); ctx.lineTo(area.right - 5, py);
    });
    ctx.stroke();

    // panel label
    ctx.fillStyle = '#000';
    ctx.font = 'bold 30px ' + SERIF;
    ctx.textAlign = 'left';
    ctx.textBaseline = 'middle';
    ctx.fillText(p.label, p.labelAt[0] - ox, p.labelAt[1] - oy);

    // axis titles
    ctx.font = 'bold 14px ' + SERIF;
    ctx.textAlign = 'center';
    ctx.fillText('Time [15 minutes]', p.xTitleAt[0] - ox, p.xTitleAt[1] - oy);
    ctx.translate(p.yTitleAt[0] - ox, p.yTitleAt[1] - oy);
    ctx.rotate(-Math.PI / 2);
    ctx.font = 'bold ' + p.yTitleSize + 'px ' + SERIF;
    ctx.fillText('Total load [MW]', 0, 0);
    ctx.restore();
  }
};

panels.forEach(p => {
  const [l, t, r, b] = p.plot;
  const div = document.createElement('div');
  div.className = 'panel';
  div.style.left = (l - ML) + 'px';
  div.style.top = (t - MT) + 'px';
  const canvas = document.createElement('canvas');
  canvas.width = (r - l) + ML + MR;
  canvas.height = (b - t) + MT + MB;
  div.appendChild(canvas);
  document.body.appendChild(div);

  const tickFont = { family: SERIF, weight: 'bold', size: 14 };

  new Chart(canvas, {
    type: 'line',
    data: {
      datasets: p.series.map((s, i) => ({
        label: dayLabels[i],
        data: s.map(([x, y]) => ({ x, y })),
        borderColor: p.colors[i],
        borderWidth: 2.5,
        pointRadius: 0,
        tension: 0,
        fill: false,
        order: 7 - i
      }))
    },
    options: {
      responsive: false,
      animation: false,
      devicePixelRatio: 1,
      events: [],
      layout: { padding: { left: 0, top: MT, right: MR, bottom: 0 } },
      plugins: {
        legend: { display: false },
        tooltip: { enabled: false },
        decor: { panel: p }
      },
      scales: {
        x: {
          type: 'linear', min: 1, max: 96,
          afterBuildTicks: s => { s.ticks = xTicks.map(v => ({ value: v })); },
          afterFit: s => { s.height = MB; },
          grid: { display: false, drawTicks: false },
          border: { display: false },
          ticks: { padding: 6, color: '#000', font: tickFont, maxRotation: 0, autoSkip: false }
        },
        y: {
          type: 'linear', min: p.yMin, max: p.yMax,
          afterBuildTicks: s => { s.ticks = p.yTicks.map(v => ({ value: v })); },
          afterFit: s => { s.width = ML; },
          grid: { display: false, drawTicks: false },
          border: { display: false },
          ticks: { padding: 5, color: '#000', font: tickFont, autoSkip: false }
        }
      }
    },
    plugins: [decor]
  });
});
</script>
</body>
</html>
